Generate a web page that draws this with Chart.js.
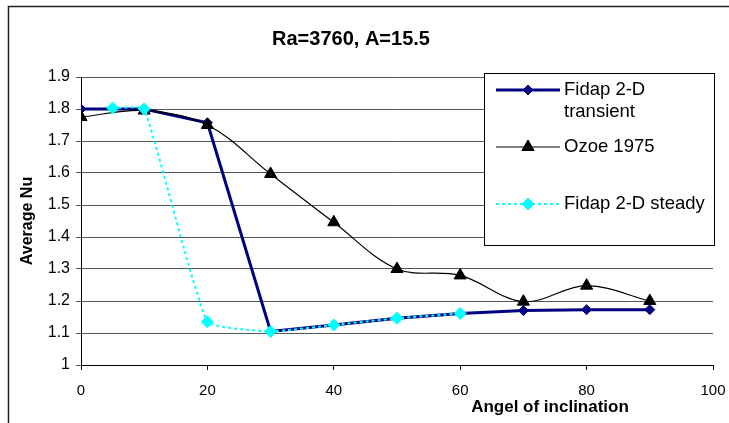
<!DOCTYPE html>
<html>
<head>
<meta charset="utf-8">
<script src="https://cdn.jsdelivr.net/npm/chart.js@4"></script>
<style>
  html, body { margin: 0; padding: 0; background: #fff; }
  #wrap { width: 729px; height: 423px; position: relative; }
</style>
</head>
<body>
<div id="wrap"><canvas id="chartNu" width="729" height="423"></canvas></div>
<script>
// chart data
const TITLE = 'Ra=3760, A=15.5';
const X_TITLE = 'Angel of inclination';
const Y_TITLE = 'Average Nu';
const SERIES_NAMES = ['Fidap 2-D transient', 'Ozoe 1975', 'Fidap 2-D steady'];

const transientX = [0, 10, 20, 30, 40, 50, 60, 70, 80, 90];
const transientY = [1.8, 1.8, 1.757, 1.105, 1.125, 1.146, 1.161, 1.17, 1.173, 1.173];

const ozoeX = [0, 10, 20, 30, 40, 50, 60, 70, 80, 90];
const ozoeY = [1.775, 1.795, 1.75, 1.597, 1.446, 1.3, 1.28, 1.198, 1.248, 1.2];

const steadyX = [5, 10, 20, 30, 40, 50, 60];
const steadyY = [1.803, 1.8, 1.135, 1.105, 1.125, 1.146, 1.161];

const X_MIN = 0, X_MAX = 100, X_STEP = 20;
const Y_MIN = 1, Y_MAX = 1.9, Y_STEP = 0.1;

const FONT = "'Liberation Sans', Arial, sans-serif";

const pts = (xs, ys) => xs.map((x, i) => ({ x, y: ys[i] }));

// frame, titles and the boxed legend
const decor = {
    id: 'decor',
    afterDraw(chart) {
        const c = chart.ctx;
        c.save();
        // outer frame (only top and left edges are visible)
        c.strokeStyle = '#222';
        c.lineWidth = 1.5;
        c.beginPath();
        c.moveTo(8.5, 423);
        c.lineTo(8.5, 6.5);
        c.lineTo(729, 6.5);
        c.stroke();

        c.fillStyle = '#000';
        c.textAlign = 'center';
        c.textBaseline = 'middle';
        c.font = 'bold 20px ' + FONT;
        c.fillText(TITLE, 351, 39);
        c.font = 'bold 17px ' + FONT;
        c.fillText(X_TITLE, 550, 407);

        // legend
        const bx = 484, by = 73, bw = 230, bh = 172;
        c.fillStyle = '#fff';
        c.fillRect(bx, by, bw, bh);
        c.strokeStyle = '#000';
        c.lineWidth = 1;
        c.strokeRect(bx + 0.5, by + 0.5, bw, bh);

        const rowsY = [90, 147, 204];
        c.font = '18.5px ' + FONT;
        c.textAlign = 'left';
        chart.data.datasets.forEach((ds, i) => {
            const y = rowsY[i];
            c.save();
            c.strokeStyle = ds.borderColor;
            c.lineWidth = ds.borderWidth;
            c.setLineDash(ds.borderDash || []);
            c.beginPath();
            c.moveTo(496, y);
            c.lineTo(560, y);
            c.stroke();
            c.restore();
            c.save();
            c.fillStyle = ds.pointBackgroundColor;
            c.strokeStyle = ds.pointBorderColor;
            c.lineWidth = 1;
            Chart.helpers.drawPoint(c, {
                pointStyle: ds.pointStyle, radius: ds.pointRadius, borderWidth: 1, rotation: 0
            }, 528, y);
            c.restore();
            // wrap label to fit the box
            c.fillStyle = '#000';
            const words = ds.label.split(' ');
            const lines = [];
            let cur = '';
            words.forEach(w => {
                const t = cur ? cur + ' ' + w : w;
                if (c.measureText(t).width > 146 && cur) { lines.push(cur); cur = w; }
                else cur = t;
            });
            lines.push(cur);
            lines.forEach((ln, k) => c.fillText(ln, 564, y + k * 22));
        });
        c.restore();
    }
};

new Chart(document.getElementById('chartNu'), {
    type: 'scatter',
    data: {
        datasets: [
            {
                label: SERIES_NAMES[0], data: pts(transientX, transientY), showLine: true,
                borderColor: '#000080', backgroundColor: '#000080', borderWidth: 3,
                pointStyle: 'rectRot', pointRadius: 5,
                pointBackgroundColor: '#000080', pointBorderColor: '#000080', pointBorderWidth: 1,
                tension: 0, order: 3
            },
            {
                label: SERIES_NAMES[1], data: pts(ozoeX, ozoeY), showLine: true,
                borderColor: '#000', backgroundColor: '#000', borderWidth: 1.2,
                pointStyle: 'triangle', pointRadius: 7,
                pointBackgroundColor: '#000', pointBorderColor: '#000', pointBorderWidth: 1,
                tension: 0.35, order: 2
            },
            {
                label: SERIES_NAMES[2], data: pts(steadyX, steadyY), showLine: true,
                borderColor: '#00FFFF', backgroundColor: '#00FFFF', borderWidth: 2, borderDash: [3, 3],
                pointStyle: 'rectRot', pointRadius: 6,
                pointBackgroundColor: '#00FFFF', pointBorderColor: '#00FFFF', pointBorderWidth: 1,
                tension: 0.12, order: 1
            }
        ]
    },
    options: {
        responsive: false,
        animation: false,
        layout: { padding: { top: 77, left: 14, right: 16, bottom: 0 } },
        plugins: {
            legend: { display: false },
            title: { display: false },
            tooltip: { enabled: false }
        },
        scales: {
            x: {
                type: 'linear', min: X_MIN, max: X_MAX,
                afterFit: s => { s.height = 58; s.paddingRight = 0; s.paddingLeft = 0; },
                ticks: { stepSize: X_STEP, color: '#000', font: { family: FONT, size: 15 }, padding: 12 },
                grid: { drawOnChartArea: false, drawTicks: true, tickLength: 5, color: '#000' },
                border: { color: '#000', width: 1 }
            },
            y: {
                min: Y_MIN, max: Y_MAX,
                afterFit: s => { s.width = 67; },
                ticks: {
                    stepSize: Y_STEP, color: '#000', font: { family: FONT, size: 16 }, padding: 6,
                    callback: v => String(Number(v.toFixed(1)))
                },
                grid: { color: '#555', tickLength: 5, drawTicks: true },
                border: { color: '#000', width: 1 },
                title: { display: true, text: Y_TITLE, color: '#000', font: { family: FONT, size: 16, weight: 'bold' }, padding: 4 }
            }
        }
    },
    plugins: [decor]
});
</script>
</body>
</html>
